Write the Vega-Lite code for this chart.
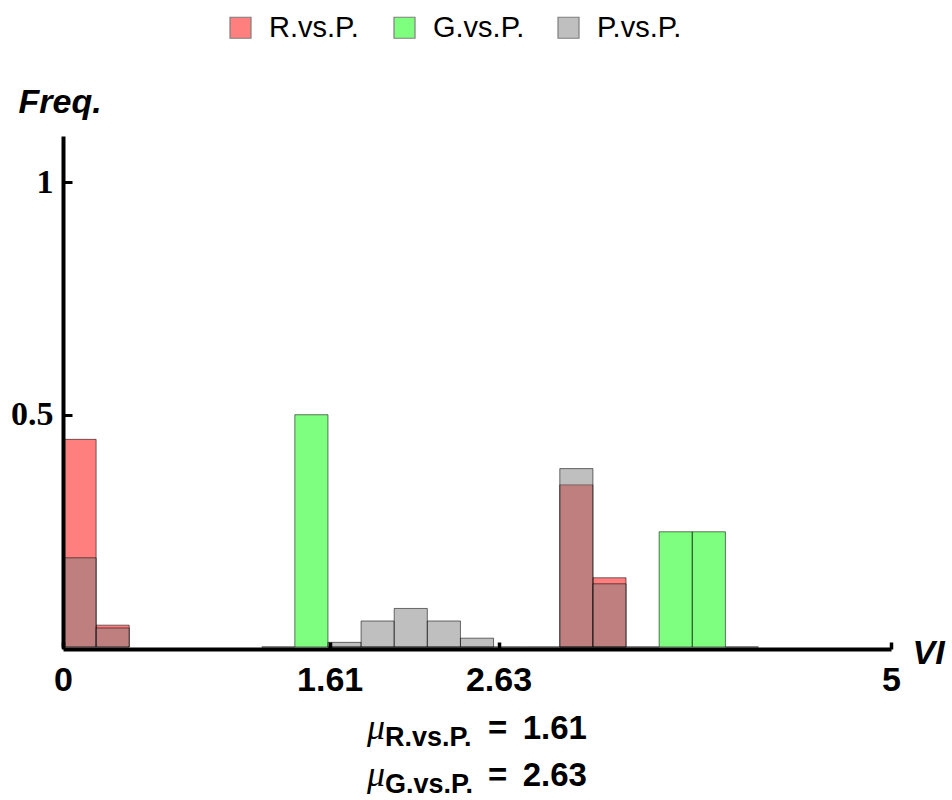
{
  "$schema": "https://vega.github.io/schema/vega-lite/v6.json",
  "width": 828,
  "height": 511,
  "autosize": {"type": "none"},
  "padding": {"left": 63, "top": 136, "right": 61, "bottom": 153},
  "background": "white",
  "config": {"view": {"stroke": null}, "axis": {"grid": false}},
  "datasets": {
    "hist": [
      {"series": "R.vs.P.", "start": 0.0, "end": 0.2, "freq": 0.447},
      {"series": "R.vs.P.", "start": 0.2, "end": 0.4, "freq": 0.047},
      {"series": "R.vs.P.", "start": 3.0, "end": 3.2, "freq": 0.349},
      {"series": "R.vs.P.", "start": 3.2, "end": 3.4, "freq": 0.149},
      {"series": "G.vs.P.", "start": 1.2, "end": 1.4, "freq": 0},
      {"series": "G.vs.P.", "start": 1.4, "end": 1.6, "freq": 0.5},
      {"series": "G.vs.P.", "start": 1.6, "end": 1.8, "freq": 0},
      {"series": "G.vs.P.", "start": 1.8, "end": 2.0, "freq": 0},
      {"series": "G.vs.P.", "start": 2.0, "end": 2.2, "freq": 0},
      {"series": "G.vs.P.", "start": 2.2, "end": 2.4, "freq": 0},
      {"series": "G.vs.P.", "start": 2.4, "end": 2.6, "freq": 0},
      {"series": "G.vs.P.", "start": 2.6, "end": 2.8, "freq": 0},
      {"series": "G.vs.P.", "start": 2.8, "end": 3.0, "freq": 0},
      {"series": "G.vs.P.", "start": 3.0, "end": 3.2, "freq": 0},
      {"series": "G.vs.P.", "start": 3.2, "end": 3.4, "freq": 0},
      {"series": "G.vs.P.", "start": 3.4, "end": 3.6, "freq": 0},
      {"series": "G.vs.P.", "start": 3.6, "end": 3.8, "freq": 0.248},
      {"series": "G.vs.P.", "start": 3.8, "end": 4.0, "freq": 0.248},
      {"series": "G.vs.P.", "start": 4.0, "end": 4.2, "freq": 0},
      {"series": "P.vs.P.", "start": 0.0, "end": 0.2, "freq": 0.192},
      {"series": "P.vs.P.", "start": 0.2, "end": 0.4, "freq": 0.041},
      {"series": "P.vs.P.", "start": 1.6, "end": 1.8, "freq": 0.01},
      {"series": "P.vs.P.", "start": 1.8, "end": 2.0, "freq": 0.056},
      {"series": "P.vs.P.", "start": 2.0, "end": 2.2, "freq": 0.083},
      {"series": "P.vs.P.", "start": 2.2, "end": 2.4, "freq": 0.056},
      {"series": "P.vs.P.", "start": 2.4, "end": 2.6, "freq": 0.019},
      {"series": "P.vs.P.", "start": 3.0, "end": 3.2, "freq": 0.384},
      {"series": "P.vs.P.", "start": 3.2, "end": 3.4, "freq": 0.136}
    ],
    "means": [
      {"series": "R.vs.P.", "mean": 1.61},
      {"series": "G.vs.P.", "mean": 2.63}
    ]
  },
  "layer": [
    {
      "data": {"name": "hist"},
      "mark": {"type": "bar", "fillOpacity": 0.5, "stroke": "#000000", "strokeOpacity": 0.55, "strokeWidth": 1},
      "encoding": {
        "x": {
          "field": "start", "type": "quantitative",
          "scale": {"domain": [0, 5], "nice": false, "zero": false},
          "axis": {
            "values": [0, 1.61, 2.63, 5], "labelExpr": "'' + datum.value",
            "title": "VI", "labelFlush": false, "labelOverlap": false, "offset": 2,
            "labelFont": "Liberation Sans", "labelFontWeight": "bold", "labelFontSize": 34, "labelColor": "black",
            "labelPadding": 21, "tickSize": -7, "tickWidth": 3.5, "tickColor": "black",
            "domainColor": "black", "domainWidth": 4,
            "titleFont": "Liberation Sans", "titleFontSize": 34, "titleFontWeight": "bold", "titleFontStyle": "italic", "titleColor": "black",
            "titleX": 849, "titleY": 14, "titleAlign": "left", "titleBaseline": "alphabetic", "titleAngle": 0,
            "zindex": 1
          }
        },
        "x2": {"field": "end"},
        "y": {
          "field": "freq", "type": "quantitative", "stack": null,
          "scale": {"domain": [0, 1.1], "nice": false},
          "axis": {
            "values": [0.5, 1], "labelExpr": "'' + datum.value",
            "title": "Freq.", "titleAngle": 0, "titleX": -45, "titleY": -24, "titleAlign": "left", "titleBaseline": "alphabetic",
            "titleFont": "Liberation Sans", "titleFontSize": 34, "titleFontWeight": "bold", "titleFontStyle": "italic", "titleColor": "black",
            "labelFont": "Liberation Serif", "labelFontSize": 34, "labelFontWeight": "bold", "labelColor": "black",
            "labelPadding": 19, "tickSize": -9, "tickWidth": 3, "tickColor": "black",
            "domainColor": "black", "domainWidth": 4, "zindex": 1
          }
        },
        "y2": {"datum": 0},
        "color": {
          "field": "series", "type": "nominal",
          "scale": {"domain": ["R.vs.P.", "G.vs.P.", "P.vs.P."], "range": ["#ff0000", "#00ff00", "#808080"]},
          "legend": {
            "orient": "none", "legendX": 163, "legendY": -123, "direction": "horizontal", "title": null,
            "symbolType": "square", "symbolSize": 441, "symbolOpacity": 0.5, "symbolStrokeColor": "#000000", "symbolStrokeWidth": 1.2,
            "labelFont": "Liberation Sans", "labelFontSize": 29, "labelColor": "black", "labelOffset": 14,
            "columnPadding": 29, "gridAlign": "all", "padding": 0
          }
        }
      }
    },
    {
      "data": {"name": "means"},
      "transform": [{"filter": "datum.series === 'R.vs.P.'"}],
      "mark": {"type": "text", "font": "Liberation Serif", "fontStyle": "italic", "fontSize": 36, "align": "left", "baseline": "alphabetic", "color": "black"},
      "encoding": {"x": {"datum": 1.836, "type": "quantitative"}, "y": {"datum": -0.198, "type": "quantitative"}, "text": {"value": "μ"}}
    },
    {
      "data": {"name": "means"},
      "transform": [{"filter": "datum.series === 'R.vs.P.'"}],
      "mark": {"type": "text", "font": "Liberation Sans", "fontWeight": "bold", "fontSize": 27, "align": "left", "baseline": "alphabetic", "dy": 7, "color": "black"},
      "encoding": {"x": {"datum": 1.944, "type": "quantitative"}, "y": {"datum": -0.198, "type": "quantitative"}, "text": {"field": "series"}}
    },
    {
      "data": {"name": "means"},
      "transform": [{"filter": "datum.series === 'R.vs.P.'"}],
      "mark": {"type": "text", "font": "Liberation Sans", "fontWeight": "bold", "fontSize": 33, "align": "left", "baseline": "alphabetic", "color": "black"},
      "encoding": {"x": {"datum": 2.566, "type": "quantitative"}, "y": {"datum": -0.198, "type": "quantitative"}, "text": {"value": "="}}
    },
    {
      "data": {"name": "means"},
      "transform": [{"filter": "datum.series === 'R.vs.P.'"}],
      "mark": {"type": "text", "font": "Liberation Sans", "fontWeight": "bold", "fontSize": 33, "align": "left", "baseline": "alphabetic", "color": "black"},
      "encoding": {"x": {"datum": 2.776, "type": "quantitative"}, "y": {"datum": -0.198, "type": "quantitative"}, "text": {"field": "mean", "type": "quantitative", "format": ".2f"}}
    },
    {
      "data": {"name": "means"},
      "transform": [{"filter": "datum.series === 'G.vs.P.'"}],
      "mark": {"type": "text", "font": "Liberation Serif", "fontStyle": "italic", "fontSize": 36, "align": "left", "baseline": "alphabetic", "color": "black"},
      "encoding": {"x": {"datum": 1.836, "type": "quantitative"}, "y": {"datum": -0.299, "type": "quantitative"}, "text": {"value": "μ"}}
    },
    {
      "data": {"name": "means"},
      "transform": [{"filter": "datum.series === 'G.vs.P.'"}],
      "mark": {"type": "text", "font": "Liberation Sans", "fontWeight": "bold", "fontSize": 27, "align": "left", "baseline": "alphabetic", "dy": 7, "color": "black"},
      "encoding": {"x": {"datum": 1.944, "type": "quantitative"}, "y": {"datum": -0.299, "type": "quantitative"}, "text": {"field": "series"}}
    },
    {
      "data": {"name": "means"},
      "transform": [{"filter": "datum.series === 'G.vs.P.'"}],
      "mark": {"type": "text", "font": "Liberation Sans", "fontWeight": "bold", "fontSize": 33, "align": "left", "baseline": "alphabetic", "color": "black"},
      "encoding": {"x": {"datum": 2.566, "type": "quantitative"}, "y": {"datum": -0.299, "type": "quantitative"}, "text": {"value": "="}}
    },
    {
      "data": {"name": "means"},
      "transform": [{"filter": "datum.series === 'G.vs.P.'"}],
      "mark": {"type": "text", "font": "Liberation Sans", "fontWeight": "bold", "fontSize": 33, "align": "left", "baseline": "alphabetic", "color": "black"},
      "encoding": {"x": {"datum": 2.776, "type": "quantitative"}, "y": {"datum": -0.299, "type": "quantitative"}, "text": {"field": "mean", "type": "quantitative", "format": ".2f"}}
    }
  ]
}
